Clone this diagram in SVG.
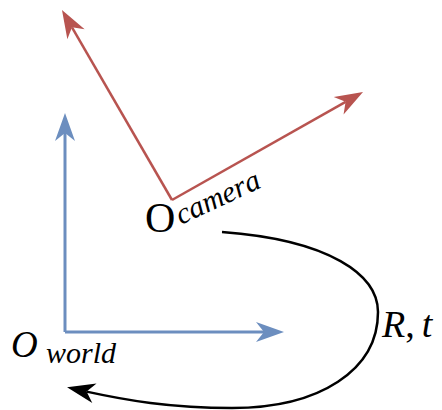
<svg xmlns="http://www.w3.org/2000/svg" width="442" height="410" viewBox="0 0 442 410">
<style>
.blue{stroke:#6c8ebf;stroke-width:3;fill:none}
.red{stroke:#b85450;stroke-width:2.5;fill:none}
.blk{stroke:#000;stroke-width:2.5;fill:none}
.t{font-family:"Liberation Serif","DejaVu Serif",serif;fill:#000}
.i{font-style:italic}
</style>
<defs>
<marker id="ab" markerUnits="userSpaceOnUse" markerWidth="40" markerHeight="40" viewBox="-10 -12 40 24" refX="0" refY="0" orient="auto" overflow="visible"><path d="M-8,-10 L20,0 L-8,10 L0,0 Z" fill="#6c8ebf"/></marker>
<marker id="ar" markerUnits="userSpaceOnUse" markerWidth="40" markerHeight="40" viewBox="-10 -12 40 24" refX="0" refY="0" orient="auto" overflow="visible"><path d="M-8,-10 L20,0 L-8,10 L0,0 Z" fill="#b85450"/></marker>
<marker id="ak" markerUnits="userSpaceOnUse" markerWidth="40" markerHeight="40" viewBox="-10 -12 40 24" refX="0" refY="0" orient="auto" overflow="visible"><path d="M-8,-10 L20,0 L-8,10 L0,0 Z" fill="#000"/></marker>
</defs>
<g id="connectors">
<path id="world-y" class="blue" d="M65,332 L65,133" marker-end="url(#ab)"/>
<path id="world-x" class="blue" d="M65,332 L264,332" marker-end="url(#ab)"/>
<path id="cam-a" class="red" d="M172,200 L72,27.3" marker-end="url(#ar)"/>
<path id="cam-b" class="red" d="M172,200 L345.6,101.8" marker-end="url(#ar)"/>
<path id="transform" class="blk" d="M222,232 C330,240 378,275 378,312 C378,370 320,408 232,408 C170,408 125,400 86.6,391.6" marker-end="url(#ak)"/>
</g>
<g id="camera-label">
<text class="t" x="145" y="232" font-size="42">O</text>
<text class="t i" font-size="30" transform="translate(181,225) rotate(-25)">camera</text>
</g>
<g id="world-label">
<text class="t i" x="11" y="357" font-size="37">O</text>
<text class="t i" x="46" y="363" font-size="30">world</text>
</g>
<g id="rt-label">
<text class="t" x="382" y="337" font-size="38"><tspan class="i">R</tspan>,<tspan class="i" dx="7">t</tspan></text>
</g>
</svg>
